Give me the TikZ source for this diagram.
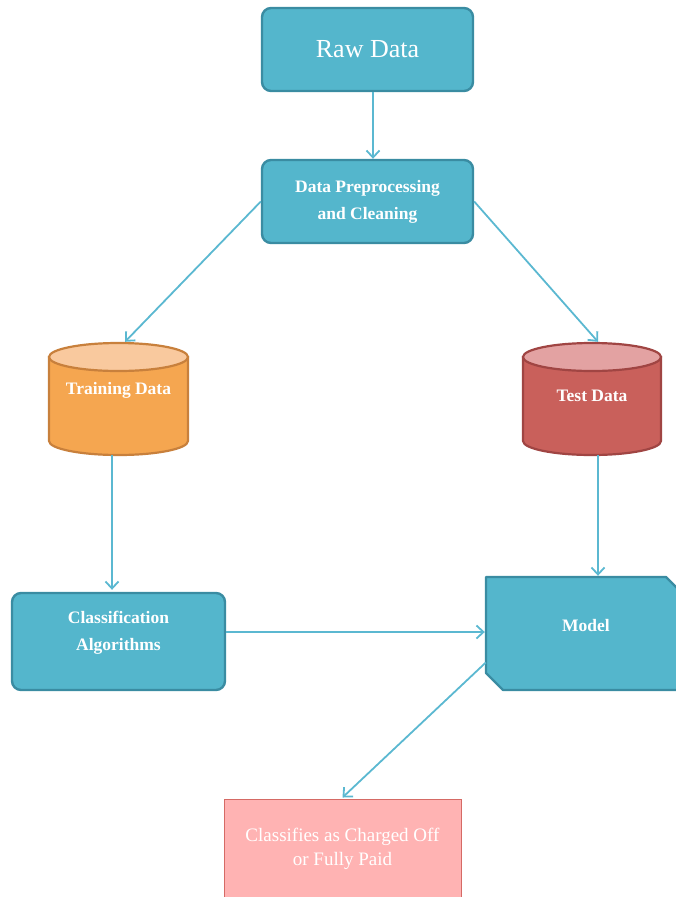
\documentclass[tikz,border=0pt]{standalone}
\usepackage{fontspec}
\setmainfont{Liberation Serif}
\usetikzlibrary{arrows.meta,calc}
\definecolor{teal1}{HTML}{54B6CC}
\definecolor{teal2}{HTML}{3A8CA2}
\definecolor{arr}{HTML}{5BB8D1}
\definecolor{orB}{HTML}{F5A650}
\definecolor{orT}{HTML}{F9C99E}
\definecolor{orL}{HTML}{C8803C}
\definecolor{rdB}{HTML}{C9605B}
\definecolor{rdT}{HTML}{E3A2A2}
\definecolor{rdL}{HTML}{A04543}
\definecolor{pkF}{HTML}{FFB3B3}
\definecolor{pkL}{HTML}{D56A65}
\tikzset{
  tealbox/.style={draw=teal2, fill=teal1, line width=2.4pt, rounded corners=9pt, text=white, align=center, inner sep=0pt},
  lbl/.style={text=white, align=center, font=\bfseries\fontsize{17.5}{27}\selectfont},
  conn/.style={draw=arr, line width=1.8pt, -{Straight Barb[length=7pt,width=13pt,line width=1.8pt]}},
  holder/.style={draw=none, inner sep=0pt, rectangle},
}
\begin{document}
\begin{tikzpicture}[x=1pt,y=-1pt]
\useasboundingbox (0,0) rectangle (676,897);
\clip (0,0) rectangle (676,897);
% Raw data
\node[tealbox, minimum width=211pt, minimum height=83pt, font=\fontsize{26}{28}\selectfont] (raw) at (367.5,49.5) {Raw Data};
\node[tealbox, minimum width=211pt, minimum height=83pt, font=\bfseries\fontsize{17.5}{27}\selectfont] (prep) at (367.5,201.5) {Data Preprocessing\\and Cleaning};
% Training cylinder
\node[holder, minimum width=139pt, minimum height=112pt] (train) at (118.5,399) {};
\fill[orB, draw=orL, line width=2.2pt] (49,357) -- (49,441) arc[start angle=180, end angle=0, x radius=69.5, y radius=14] -- (188,357) -- cycle;
\draw[orL, fill=orT, line width=2.2pt] (118.5,357) ellipse[x radius=69.5, y radius=14];
\node[lbl] at (118.5,390) {Training Data};
% Test cylinder
\node[holder, minimum width=138pt, minimum height=112pt] (test) at (592,399) {};
\fill[rdB, draw=rdL, line width=2.2pt] (523,357) -- (523,441) arc[start angle=180, end angle=0, x radius=69, y radius=14] -- (661,357) -- cycle;
\draw[rdL, fill=rdT, line width=2.2pt] (592,357) ellipse[x radius=69, y radius=14];
\node[lbl] at (592,396) {Test Data};
% Classification
\node[tealbox, minimum width=213pt, minimum height=97pt] (cls) at (118.5,641.5) {};
\node[lbl] at (118.5,633) {Classification\\Algorithms};
% Model
\node[holder, minimum width=197pt, minimum height=113pt] (model) at (584.5,633.5) {};
\draw[draw=teal2, fill=teal1, line width=2.4pt, line join=round] (486,577) -- (666,577) -- (683,594) -- (683,690) -- (503,690) -- (486,673) -- cycle;
\node[lbl] at (586,626) {Model};
% Output
\node[draw=pkL, fill=pkF, line width=1pt, minimum width=237pt, minimum height=98pt, inner sep=0pt] (out) at (342.5,848) {};
\node[text=white, align=center, font=\fontsize{19}{24}\selectfont] at (342.5,849) {Classifies as Charged Off\\or Fully Paid};
% connectors
\coordinate (ts) at ($(test.south)+(6,0)$);
\coordinate (trs) at ($(train.south)+(-6.5,0)$);
\coordinate (rs) at ($(raw.south)+(5.5,0)$);
\coordinate (cm) at ($(model.west)+(0,-1.5)$);
\draw[conn] (rs) -- (rs |- prep.north);
\draw[conn] (prep.west) -- ($(train.north)+(6.5,-1)$);
\draw[conn] (prep.east) -- ($(test.north)+(6,-1)$);
\draw[conn] (trs) -- ($(cls.north)+(-6.5,-2)$);
\draw[conn] (ts) -- ($(ts |- model.north)+(0,-1)$);
\draw[conn] (cm -| cls.east) -- ($(cm)+(-1,0)$);
\draw[conn] ($(model.west)+(0,29)$) -- ($(out.north)+(0,-1)$);
\end{tikzpicture}
\end{document}
